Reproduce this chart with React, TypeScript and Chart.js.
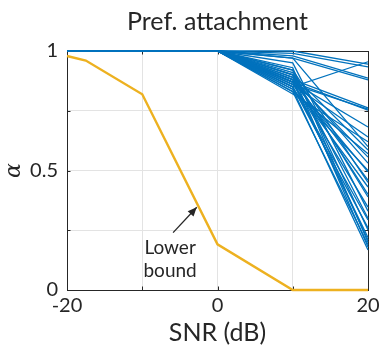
import { useEffect, useRef } from "react";
import { Chart, registerables } from "chart.js";
Chart.register(...registerables);

const FONT = "Lato";
const chartTitle = "Pref. attachment";
const xTitle = "SNR (dB)";
const yTitle = "α";
const noteLines = ["Lower", "bound"];

const snrBlue = [-20, -10, 0, 10, 20];
const blueBefore = [1, 1, 1];
const blueAt10 = [0.85, 0.99, 1.0, 0.98, 0.97, 0.88, 0.87, 0.86, 0.87, 0.86, 0.9, 0.88, 0.89, 0.87, 0.88, 0.86, 0.9, 0.87, 0.85, 0.92, 0.88, 0.84, 0.93, 0.9, 0.87, 0.85, 0.83, 0.82, 0.83, 0.91, 0.95, 0.89, 0.84, 0.97, 0.92];
const blueAt20 = [0.955, 0.934, 0.945, 0.887, 0.879, 0.762, 0.753, 0.757, 0.682, 0.64, 0.586, 0.556, 0.531, 0.494, 0.46, 0.431, 0.389, 0.347, 0.293, 0.251, 0.209, 0.167, 0.2, 0.18, 0.22, 0.26, 0.19, 0.62, 0.57, 0.3, 0.33, 0.4, 0.5, 0.6, 0.45];

const snrLower = [-20, -17.5, -10, 0, 10, 20];
const lowerBound = [0.979, 0.96, 0.819, 0.191, 0, 0];

const xTickValues = [-20, -10, 0, 10, 20];
const xLabeled = [-20, 0, 20];
const yTickValues = [0, 0.25, 0.5, 0.75, 1];
const yLabeled = [0, 0.5, 1];

// annotation anchor points in data coordinates
const arrowFrom = { x: -5.9, y: 0.24 };
const arrowTo = { x: -2.76, y: 0.346 };
const noteAt = { x: -6.3, y: 0.18 };

const BLUE = "#0072BD";
const ORANGE = "#EDB120";
const AXIS = "#262626";

export default function App() {
  const ref = useRef<HTMLCanvasElement | null>(null);
  useEffect(() => {
    if (!ref.current) return;
    const datasets: any[] = blueAt10.map((v, i) => ({
      data: snrBlue.map((x, j) => ({ x, y: [...blueBefore, v, blueAt20[i]][j] })),
      borderColor: BLUE,
      borderWidth: 1.3,
      pointRadius: 0,
      fill: false,
      clip: 4,
    }));
    datasets.push({
      data: snrLower.map((x, j) => ({ x, y: lowerBound[j] })),
      borderColor: ORANGE,
      borderWidth: 2.4,
      pointRadius: 0,
      fill: false,
      clip: 4,
    });

    const deco = {
      id: "deco",
      beforeDatasetsDraw(chart: any) {
        const { ctx, chartArea: a, scales } = chart;
        ctx.save();
        ctx.strokeStyle = AXIS;
        ctx.lineWidth = 1;
        const tl = 3.5;
        ctx.beginPath();
        xTickValues.forEach((v) => {
          const px = Math.round(scales.x.getPixelForValue(v)) + 0.5;
          ctx.moveTo(px, a.bottom);
          ctx.lineTo(px, a.bottom - tl);
          ctx.moveTo(px, a.top);
          ctx.lineTo(px, a.top + tl);
        });
        yTickValues.forEach((v) => {
          const py = Math.round(scales.y.getPixelForValue(v)) + 0.5;
          ctx.moveTo(a.left, py);
          ctx.lineTo(a.left + tl, py);
          ctx.moveTo(a.right, py);
          ctx.lineTo(a.right - tl, py);
        });
        ctx.stroke();
        ctx.strokeRect(Math.round(a.left) + 0.5, Math.round(a.top) + 0.5, Math.round(a.right - a.left), Math.round(a.bottom - a.top));
        ctx.restore();
      },
      afterDraw(chart: any) {
        const { ctx, chartArea: a, scales } = chart;
        ctx.save();
        ctx.fillStyle = AXIS;
        ctx.textAlign = "center";
        ctx.textBaseline = "alphabetic";
        ctx.font = `25px ${FONT}`;
        ctx.fillText(chartTitle, (a.left + a.right) / 2, 29.5);
        ctx.font = `25px ${FONT}`;
        ctx.fillText(xTitle, (a.left + a.right) / 2, 341);
        ctx.save();
        ctx.translate(20, (a.top + a.bottom) / 2);
        ctx.rotate(-Math.PI / 2);
        ctx.font = `italic 22px "DejaVu Serif"`;
        ctx.fillText(yTitle, 0, 0);
        ctx.restore();
        // annotation
        const fx = scales.x.getPixelForValue(arrowFrom.x);
        const fy = scales.y.getPixelForValue(arrowFrom.y);
        const tx = scales.x.getPixelForValue(arrowTo.x);
        const ty = scales.y.getPixelForValue(arrowTo.y);
        ctx.strokeStyle = AXIS;
        ctx.lineWidth = 1.3;
        ctx.beginPath();
        ctx.moveTo(fx, fy);
        ctx.lineTo(tx, ty);
        ctx.stroke();
        const ang = Math.atan2(ty - fy, tx - fx);
        const hl = 9, hw = 4;
        ctx.beginPath();
        ctx.moveTo(tx, ty);
        ctx.lineTo(tx - hl * Math.cos(ang) + hw * Math.sin(ang), ty - hl * Math.sin(ang) - hw * Math.cos(ang));
        ctx.lineTo(tx - hl * Math.cos(ang) - hw * Math.sin(ang), ty - hl * Math.sin(ang) + hw * Math.cos(ang));
        ctx.closePath();
        ctx.fill();
        ctx.font = `19px ${FONT}`;
        const nx = scales.x.getPixelForValue(noteAt.x);
        const ny = scales.y.getPixelForValue(noteAt.y);
        noteLines.forEach((t, i) => ctx.fillText(t, nx, ny + 7 + i * 23));
        ctx.restore();
      },
    };

    const chart = new Chart(ref.current, {
      type: "line",
      data: { datasets },
      options: {
        animation: false,
        responsive: false,
        layout: { padding: { top: 51, right: 12, left: 0, bottom: 0 } },
        plugins: { legend: { display: false }, tooltip: { enabled: false } },
        scales: {
          x: {
            type: "linear",
            min: -20,
            max: 20,
            afterBuildTicks: (s: any) => { s.ticks = xTickValues.map((value) => ({ value })); },
            afterFit: (s: any) => { s.height = 55; s.paddingLeft = 0; s.paddingRight = 0; },
            ticks: {
              callback: (v: any) => (xLabeled.includes(Number(v)) ? String(v) : ""),
              color: AXIS,
              font: { family: FONT, size: 20 },
              padding: 4,
              maxRotation: 0,
              autoSkip: false,
            },
            grid: { color: "#e3e3e3", drawTicks: false },
            border: { display: false },
          },
          y: {
            type: "linear",
            min: 0,
            max: 1,
            afterBuildTicks: (s: any) => { s.ticks = yTickValues.map((value) => ({ value })); },
            afterFit: (s: any) => { s.width = 67; s.paddingTop = 0; s.paddingBottom = 0; },
            ticks: {
              callback: (v: any) => (yLabeled.includes(Number(v)) ? String(v) : ""),
              color: AXIS,
              font: { family: FONT, size: 20 },
              padding: 9,
              autoSkip: false,
            },
            grid: { color: "#e3e3e3", drawTicks: false },
            border: { display: false },
          },
        },
      },
      plugins: [deco],
    });
    return () => chart.destroy();
  }, []);
  return (
    <div style={{ position: "fixed", left: 0, top: 0, width: 380, height: 345, background: "#fff" }}>
      <canvas ref={ref} width={380} height={345} style={{ width: 380, height: 345, display: "block" }} />
    </div>
  );
}
